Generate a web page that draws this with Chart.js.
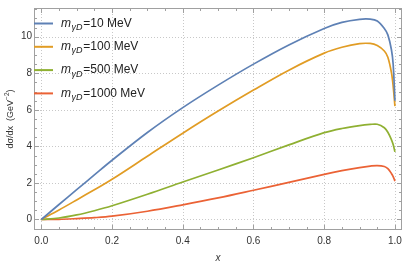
<!DOCTYPE html>
<html lang="en">
<head>
  <meta charset="UTF-8" />
  <title>dsigma/dx</title>
  <script src="https://cdn.jsdelivr.net/npm/chart.js"></script>
  <style>
    html, body { margin: 0; padding: 0; background: #fff; }
    #wrap { width: 407px; height: 267px; }
  </style>
</head>
<body>
  <div id="wrap"><canvas id="plot" width="407" height="267"></canvas></div>

  <script>
    // sample points along x
    const xs = [0, 0.05, 0.1, 0.15, 0.2, 0.3, 0.4, 0.5, 0.6, 0.7, 0.8, 0.85, 0.9, 0.93, 0.95, 0.97, 0.98, 0.99, 0.995, 1.0];

    const m10   = [0, 0.82, 1.63, 2.44, 3.24, 4.76, 6.12, 7.35, 8.5, 9.55, 10.45, 10.78, 10.95, 10.96, 10.86, 10.45, 10.1, 9.3, 8.5, 6.5];
    const m100  = [0, 0.52, 1.07, 1.63, 2.2, 3.46, 4.72, 5.93, 7.08, 8.17, 9.1, 9.42, 9.62, 9.63, 9.52, 9.22, 8.88, 8.05, 7.3, 6.2];
    const m500  = [0, 0.08, 0.25, 0.48, 0.75, 1.38, 2.05, 2.71, 3.38, 4.08, 4.75, 4.98, 5.14, 5.2, 5.21, 5.02, 4.77, 4.37, 4.1, 3.7];
    const m1000 = [0, 0.01, 0.05, 0.1, 0.18, 0.45, 0.8, 1.18, 1.6, 2.03, 2.47, 2.67, 2.84, 2.92, 2.95, 2.9, 2.78, 2.52, 2.35, 2.1];

    const masses = ["10", "100", "500", "1000"];
    const colors = ["#5E81B5", "#E19C24", "#8FB032", "#EB6235"];

    const xTicks = [0, 0.2, 0.4, 0.6, 0.8, 1.0];
    const yTicks = [0, 2, 4, 6, 8, 10];

    const series = [m10, m100, m500, m1000];

    const datasets = series.map((arr, i) => ({
      label: masses[i],
      data: xs.map((x, k) => ({ x: x, y: arr[k] })),
      borderColor: colors[i],
      borderWidth: 1.7,
      pointRadius: 0,
      fill: false,
      tension: 0.35
    }));

    const FONT = "'Liberation Sans', Arial, sans-serif";

    // grid, frame, inward ticks, titles and legend, mathematica style
    const framePlugin = {
      id: "frame",
      beforeDatasetsDraw(chart) {
        const { ctx, chartArea: a, scales } = chart;
        const sx = scales.x, sy = scales.y;
        ctx.save();
        ctx.strokeStyle = "#c8c8c8";
        ctx.lineWidth = 1;
        ctx.setLineDash([1, 2]);
        xTicks.forEach(v => {
          const px = Math.round(sx.getPixelForValue(v)) + 0.5;
          ctx.beginPath(); ctx.moveTo(px, a.top); ctx.lineTo(px, a.bottom); ctx.stroke();
        });
        yTicks.forEach(v => {
          const py = Math.round(sy.getPixelForValue(v)) + 0.5;
          ctx.beginPath(); ctx.moveTo(a.left, py); ctx.lineTo(a.right, py); ctx.stroke();
        });
        ctx.restore();
      },
      afterDatasetsDraw(chart) {
        const { ctx, chartArea: a, scales } = chart;
        const sx = scales.x, sy = scales.y;
        ctx.save();
        ctx.strokeStyle = "#a0a0a0";
        ctx.lineWidth = 1;
        ctx.strokeRect(a.left + 0.5, a.top + 0.5, a.right - a.left - 1, a.bottom - a.top - 1);

        // x ticks every 0.05, major every 0.2
        for (let k = 0; k <= 20; k++) {
          const v = k * 0.05;
          const len = k % 4 === 0 ? 5 : 3;
          const px = Math.round(sx.getPixelForValue(v)) + 0.5;
          ctx.beginPath();
          ctx.moveTo(px, a.bottom); ctx.lineTo(px, a.bottom - len);
          ctx.moveTo(px, a.top); ctx.lineTo(px, a.top + len);
          ctx.stroke();
        }
        // y ticks every 0.5, major every 2
        for (let k = -1; k <= 23; k++) {
          const v = k * 0.5;
          const len = k % 4 === 0 ? 5 : 3;
          const py = Math.round(sy.getPixelForValue(v)) + 0.5;
          if (py < a.top || py > a.bottom) continue;
          ctx.beginPath();
          ctx.moveTo(a.left, py); ctx.lineTo(a.left + len, py);
          ctx.moveTo(a.right, py); ctx.lineTo(a.right - len, py);
          ctx.stroke();
        }

        // axis titles
        ctx.fillStyle = "#333";
        ctx.font = "italic 10px " + FONT;
        ctx.textAlign = "center";
        ctx.textBaseline = "middle";
        ctx.fillText("x", (a.left + a.right) / 2, 258);

        ctx.translate(11, (a.top + a.bottom) / 2);
        ctx.rotate(-Math.PI / 2);
        const main = "d\u03C3/dx  (GeV";
        ctx.font = "9px " + FONT;
        const w1 = ctx.measureText(main).width;
        ctx.font = "6.5px " + FONT;
        const w2 = ctx.measureText("\u22122").width;
        ctx.font = "9px " + FONT;
        const w3 = ctx.measureText(")").width;
        let cx = -(w1 + w2 + w3) / 2;
        ctx.textAlign = "left";
        ctx.fillText(main, cx, 0);
        cx += w1;
        ctx.font = "6.5px " + FONT;
        ctx.fillText("\u22122", cx, -3.5);
        cx += w2;
        ctx.font = "9px " + FONT;
        ctx.fillText(")", cx, 0);
        ctx.restore();

        // legend
        ctx.save();
        ctx.textBaseline = "middle";
        ctx.textAlign = "left";
        masses.forEach((m, i) => {
          const y = 23.5 + i * 23.3;
          ctx.strokeStyle = colors[i];
          ctx.lineWidth = 2;
          ctx.beginPath(); ctx.moveTo(a.left, y); ctx.lineTo(a.left + 19, y); ctx.stroke();
          let x = 61;
          ctx.fillStyle = "#222";
          ctx.font = "italic 12px " + FONT;
          ctx.fillText("m", x, y);
          x += ctx.measureText("m").width + 0.5;
          ctx.font = "italic 9px " + FONT;
          ctx.fillText("\u03B3D", x, y + 4);
          x += ctx.measureText("\u03B3D").width + 0.8;
          ctx.font = "12px " + FONT;
          ctx.fillText("=" + m + " MeV", x, y);
        });
        ctx.restore();
      }
    };

    new Chart(document.getElementById("plot"), {
      type: "line",
      data: { datasets },
      options: {
        responsive: false,
        animation: false,
        layout: { padding: { top: 4, right: 5, left: 0, bottom: 0 } },
        plugins: { legend: { display: false }, tooltip: { enabled: false } },
        scales: {
          x: {
            type: "linear",
            min: -0.0207,
            max: 1.02,
            afterBuildTicks: s => { s.ticks = xTicks.map(v => ({ value: v })); },
            afterFit: s => { s.height = 37; },
            grid: { display: false, drawTicks: false },
            border: { display: false },
            ticks: {
              color: "#333",
              font: { family: FONT, size: 10 },
              padding: 5,
              maxRotation: 0,
              callback: v => v.toFixed(1)
            }
          },
          y: {
            min: -0.575,
            max: 11.57,
            afterBuildTicks: s => { s.ticks = yTicks.map(v => ({ value: v })); },
            afterFit: s => { s.width = 34; },
            grid: { display: false, drawTicks: false },
            border: { display: false },
            ticks: {
              color: "#333",
              font: { family: FONT, size: 10 },
              padding: 2,
              callback: v => String(v)
            }
          }
        }
      },
      plugins: [framePlugin]
    });
  </script>
</body>
</html>
